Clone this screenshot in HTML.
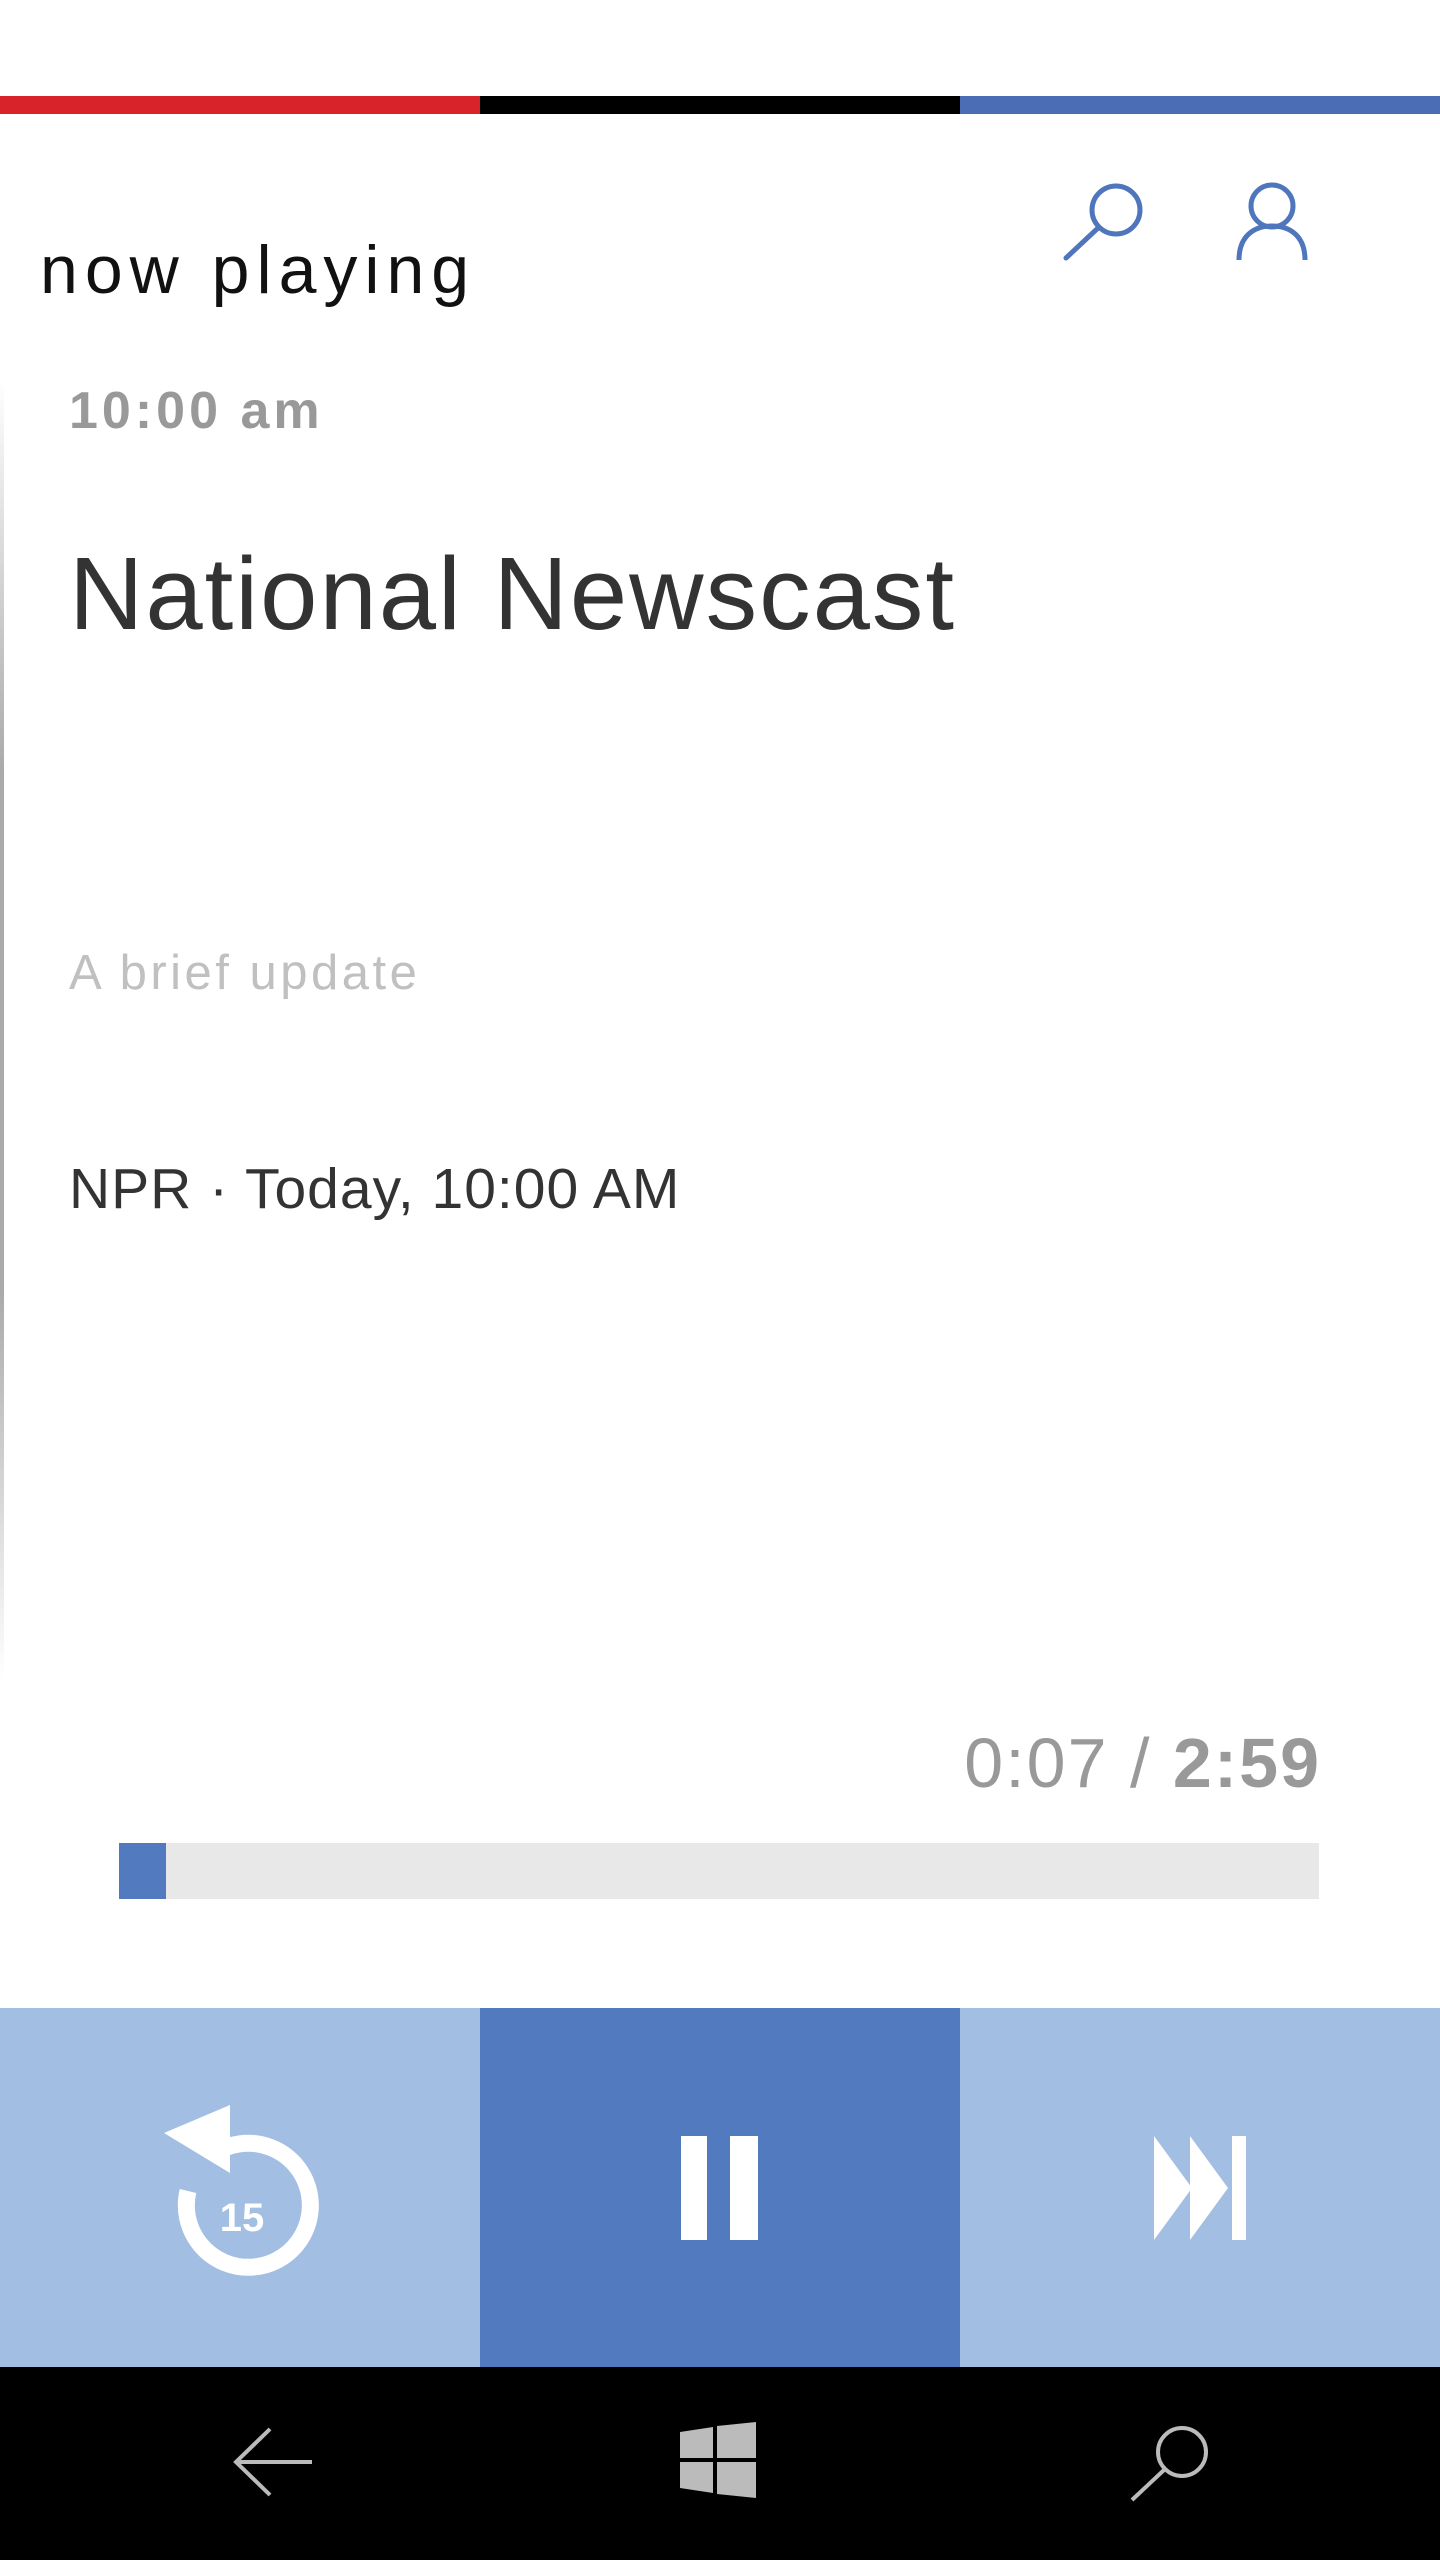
<!DOCTYPE html>
<html><head><meta charset="utf-8">
<style>
html,body{margin:0;padding:0;}
body{width:1440px;height:2560px;position:relative;background:#fff;overflow:hidden;font-family:"Liberation Sans",sans-serif;}
.abs{position:absolute;}
.t{position:absolute;white-space:nowrap;line-height:1;}
</style></head><body>
<div class="abs" style="left:0;top:96px;width:480px;height:18px;background:#d9232a"></div>
<div class="abs" style="left:480px;top:96px;width:480px;height:18px;background:#000"></div>
<div class="abs" style="left:960px;top:96px;width:480px;height:18px;background:#4a6db5"></div>

<svg class="abs" style="left:1060px;top:180px" width="86" height="82" viewBox="0 0 86 82">
<circle cx="56" cy="30" r="24" fill="none" stroke="#4f76bd" stroke-width="5"/>
<line x1="38" y1="48" x2="6" y2="78" stroke="#4f76bd" stroke-width="5" stroke-linecap="round"/></svg>
<svg class="abs" style="left:1234px;top:180px" width="76" height="82" viewBox="0 0 76 82">
<circle cx="38" cy="26" r="21" fill="none" stroke="#4f76bd" stroke-width="5"/>
<path d="M5 80 C5 56 20 46 38 46 C56 46 71 56 71 80" fill="none" stroke="#4f76bd" stroke-width="5"/></svg>

<div class="t" style="left:40px;top:236px;font-size:68px;color:#111;letter-spacing:7px">now playing</div>
<div class="abs" style="left:0;top:380px;width:4px;height:1300px;background:linear-gradient(#fff,#aaa 30%,#aaa 70%,#fff)"></div>
<div class="t" style="left:69px;top:385px;font-size:52px;color:#999;font-weight:bold;letter-spacing:4px">10:00 am</div>
<div class="t" style="left:69px;top:542px;font-size:103px;color:#333;letter-spacing:2px">National Newscast</div>
<div class="t" style="left:69px;top:949px;font-size:49px;color:#c0c0c0;letter-spacing:3.5px">A brief update</div>
<div class="t" style="left:69px;top:1161px;font-size:57px;color:#333;letter-spacing:1px">NPR · Today, 10:00 AM</div>

<div class="t" style="right:119px;top:1728px;font-size:70px;color:#999;letter-spacing:2px"><span id="cur">0:07</span> / <b id="dur">2:59</b></div>
<div class="abs" style="left:119px;top:1843px;width:1200px;height:56px;background:#e8e8e8"><div id="fill" style="height:100%;background:#527abf;width:52px"></div></div>

<div class="abs" style="left:0;top:2008px;width:480px;height:359px;background:#a2bee3">
<svg class="abs" style="left:160px;top:95px" width="170" height="175" viewBox="0 0 170 175">
<path d="M55 50 A62 62 0 1 1 28 88" fill="none" stroke="#fff" stroke-width="17"/>
<polygon points="70,2 70,70 4,30" fill="#fff"/>
<text x="82" y="128" font-family="Liberation Sans,sans-serif" font-weight="bold" font-size="40" fill="#fff" text-anchor="middle">15</text></svg></div>
<div class="abs" style="left:480px;top:2008px;width:480px;height:359px;background:#527abf">
<div class="abs" style="left:201px;top:128px;width:26px;height:104px;background:#fff"></div>
<div class="abs" style="left:250px;top:128px;width:28px;height:104px;background:#fff"></div></div>
<div class="abs" style="left:960px;top:2008px;width:480px;height:359px;background:#a2bee3">
<svg class="abs" style="left:194px;top:128px" width="92" height="104" viewBox="0 0 92 104">
<polygon points="0,0 38,52 0,104" fill="#fff"/><polygon points="36,0 74,52 36,104" fill="#fff"/><rect x="78" y="0" width="14" height="104" fill="#fff"/></svg></div>

<div class="abs" style="left:0;top:2367px;width:1440px;height:193px;background:#000"></div>
<svg class="abs" style="left:230px;top:2425px" width="84" height="74" viewBox="0 0 84 74">
<path d="M40 4 L6 37 L40 70 M6 37 L82 37" fill="none" stroke="#bbb" stroke-width="4"/></svg>
<svg class="abs" style="left:680px;top:2422px" width="76" height="76" viewBox="0 0 76 76">
<polygon points="0,10 33,5 33,36 0,36" fill="#bbb"/><polygon points="37,4 76,0 76,36 37,36" fill="#bbb"/>
<polygon points="0,40 33,40 33,71 0,66" fill="#bbb"/><polygon points="37,40 76,40 76,76 37,72" fill="#bbb"/></svg>
<svg class="abs" style="left:1126px;top:2422px" width="86" height="82" viewBox="0 0 86 82">
<circle cx="56" cy="30" r="24" fill="none" stroke="#bbb" stroke-width="4"/>
<line x1="38" y1="48" x2="6" y2="78" stroke="#bbb" stroke-width="4"/></svg>
<script>
const elapsedSec=[7];
const durationSec=[179];
document.getElementById('fill').style.width=(1200*elapsedSec[0]/durationSec[0]).toFixed(1)+'px';
</script>
</body></html>
